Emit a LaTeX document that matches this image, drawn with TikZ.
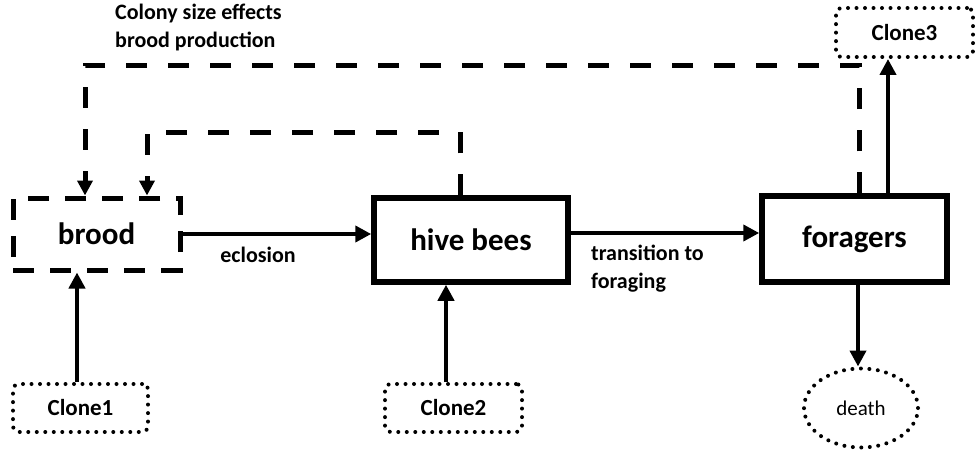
\documentclass[tikz,border=0pt]{standalone}
\usepackage{fontspec}
\setmainfont{Carlito}
\usetikzlibrary{arrows.meta,shapes.geometric,calc}
\begin{document}
\begin{tikzpicture}[x=1pt,y=-1pt,
  solidbox/.style={draw, line width=5.5pt, inner sep=0pt, font=\fontsize{31}{36}\selectfont\bfseries},
  dashbox/.style={solidbox, line width=5pt, dash pattern=on 21pt off 16pt},
  clonebox/.style={draw, line width=4pt, line cap=round, dash pattern=on 0pt off 8.5pt, rounded corners=6pt, inner sep=0pt, font=\fontsize{23}{27}\selectfont\bfseries},
  endbox/.style={draw, ellipse, line width=4pt, line cap=round, dash pattern=on 0pt off 8.5pt, inner sep=0pt, font=\fontsize{21}{25}\selectfont},
  arr/.style={line width=4.5pt, -{Triangle[length=16pt,width=16pt]}},
  fb/.style={line width=5pt, dash pattern=on 21pt off 21pt, -{Triangle[length=15pt,width=15pt]}},
  lbl/.style={font=\fontsize{22}{28}\selectfont\bfseries, inner sep=0pt, align=left}]
\useasboundingbox (0,0) rectangle (978,452);
\node[dashbox, minimum width=167pt, minimum height=72pt] (brood) at (96.5,234) {brood};
\node[solidbox, minimum width=194pt, minimum height=84pt] (hive) at (471,240) {hive bees};
\node[solidbox, minimum width=185pt, minimum height=86pt] (foragers) at (854.5,239) {foragers};
\node[clonebox, minimum width=135pt, minimum height=48pt] (clone1) at (80.5,408) {Clone1};
\node[clonebox, minimum width=137pt, minimum height=48pt] (clone2) at (453.5,408) {Clone2};
\node[clonebox, minimum width=137pt, minimum height=49pt] (clone3) at (904.5,32.5) {Clone3};
\node[endbox, minimum width=114pt, minimum height=79pt] (death) at (861,408) {death};
\node[lbl, anchor=center] (ecl) at (258,255) {eclosion};
\node[lbl, anchor=west] (trans) at (591,269) {transition to\\foraging};
\node[lbl, anchor=west] (colony) at (115,28) {Colony size effects\\brood production};
\draw[arr] (brood.east) -- (brood.east -| hive.west);
\draw[arr] ([yshift=7pt]hive.east) -- ([yshift=7pt]hive.east -| foragers.west);
\draw[arr] ([xshift=-3.5pt]clone1.north) -- ([xshift=-3.5pt]clone1.north |- brood.south);
\draw[arr] ([xshift=-7.5pt]clone2.north) -- ([xshift=-7.5pt]clone2.north |- hive.south);
\draw[arr] ([xshift=33.5pt]foragers.north) -- ([xshift=33.5pt]foragers.north |- clone3.south);
\draw[arr] ([xshift=3.5pt]foragers.south) -- ([xshift=3.5pt]foragers.south |- death.north);
\draw[fb] ([xshift=4.5pt]foragers.north) -- ++(0,-128) -| ([xshift=-11.5pt]brood.north);
\draw[fb] ([xshift=-11pt]hive.north) -- ++(0,-63) -| ([xshift=50.5pt]brood.north);
\end{tikzpicture}
\end{document}
